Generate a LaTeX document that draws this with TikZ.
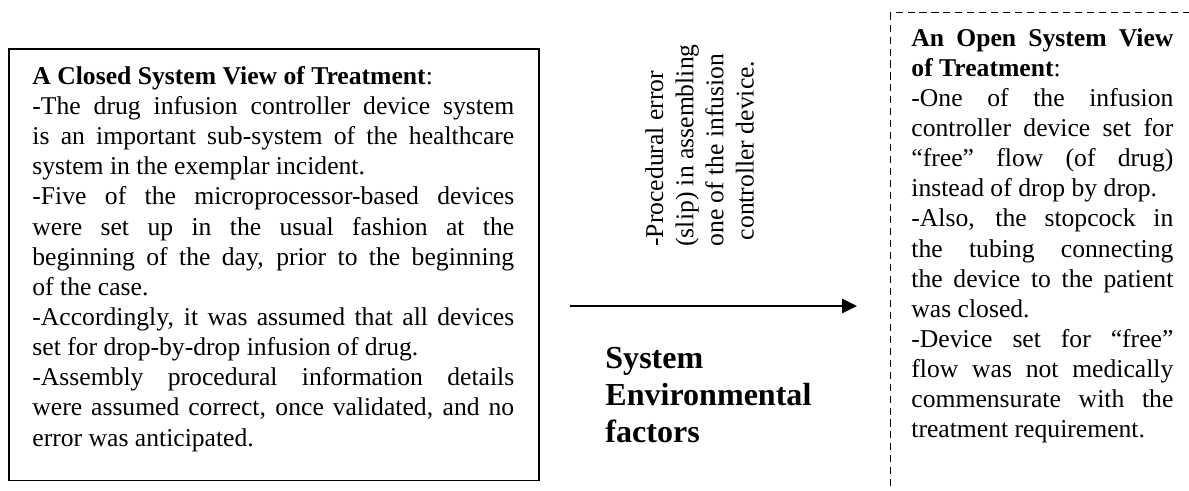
\documentclass[tikz,border=0pt]{standalone}
\usepackage{fontspec}
\setmainfont{Liberation Serif}
\usetikzlibrary{arrows.meta}
\setlength{\parindent}{0pt}
\tolerance=9999
\hbadness=10000

\begin{document}
\begin{tikzpicture}[x=0.468pt,y=-0.468pt,
    frame/.style={draw, line width=0.8pt, inner sep=0pt, anchor=north west},
    openframe/.style={draw, line width=0.6pt, dash pattern=on 3.3pt off 2.3pt, inner sep=0pt, anchor=north west},
    body/.style={inner sep=0pt, anchor=north west, align=justify,
      font=\fontsize{12}{14.1}\selectfont},
    flow/.style={line width=1.4pt, -{Triangle[length=7pt,width=6.5pt]}}]
    \useasboundingbox (0,0) rectangle (1189,491);
    \clip (0,0) rectangle (1189,491);

    % closed view (solid box on the left)
    \node[frame, minimum width=248pt, minimum height=202pt] (closed) at (8,48) {};
    \node[body, text width=225.5pt] (closedtxt) at (32,66) {%
      \textbf{A Closed System View of Treatment}:\par
      -The drug infusion controller device system\linebreak
      is an important sub-system of the healthcare\linebreak
      system in the exemplar incident.\par
      -Five of the microprocessor-based devices\linebreak
      were set up in the usual fashion at the\linebreak
      beginning of the day, prior to the beginning\linebreak
      of the case.\par
      -Accordingly, it was assumed that all devices\linebreak
      set for drop-by-drop infusion of drug.\par
      -Assembly procedural information details\linebreak
      were assumed correct, once validated, and no\linebreak
      error was anticipated.};

    % open view (dashed box, runs off the page)
    \node[openframe, minimum width=160pt, minimum height=240pt] (open) at (890,12) {};
    \node[body, text width=122.6pt] (opentxt) at (911,28) {%
      \textbf{An Open System View\linebreak
      of Treatment}:\par
      -One of the infusion\linebreak
      controller device set for\linebreak
      “free” flow (of drug)\linebreak
      instead of drop by drop.\par
      -Also, the stopcock in\linebreak
      the tubing connecting\linebreak
      the device to the patient\linebreak
      was closed.\par
      -Device set for “free”\linebreak
      flow was not medically\linebreak
      commensurate with the\linebreak
      treatment requirement.};

    % what goes wrong in between
    \node[inner sep=0pt, anchor=north west, rotate=90, align=left,
      font=\fontsize{12}{14.1}\selectfont] (slip) at (645,247) {%
      -Procedural error\\
      (slip) in assembling\\
      one of the infusion\\
      \hspace*{3pt}controller device.};

    \coordinate (from) at (570,306);
    \coordinate (to) at (857,306);
    \draw[flow] (from) -- (to);

    \node[inner sep=0pt, anchor=north west, align=left,
      font=\fontsize{15}{17.25}\selectfont\bfseries] (env) at (605,347) {%
      System\\
      Environmental\\
      factors};
\end{tikzpicture}
\end{document}
